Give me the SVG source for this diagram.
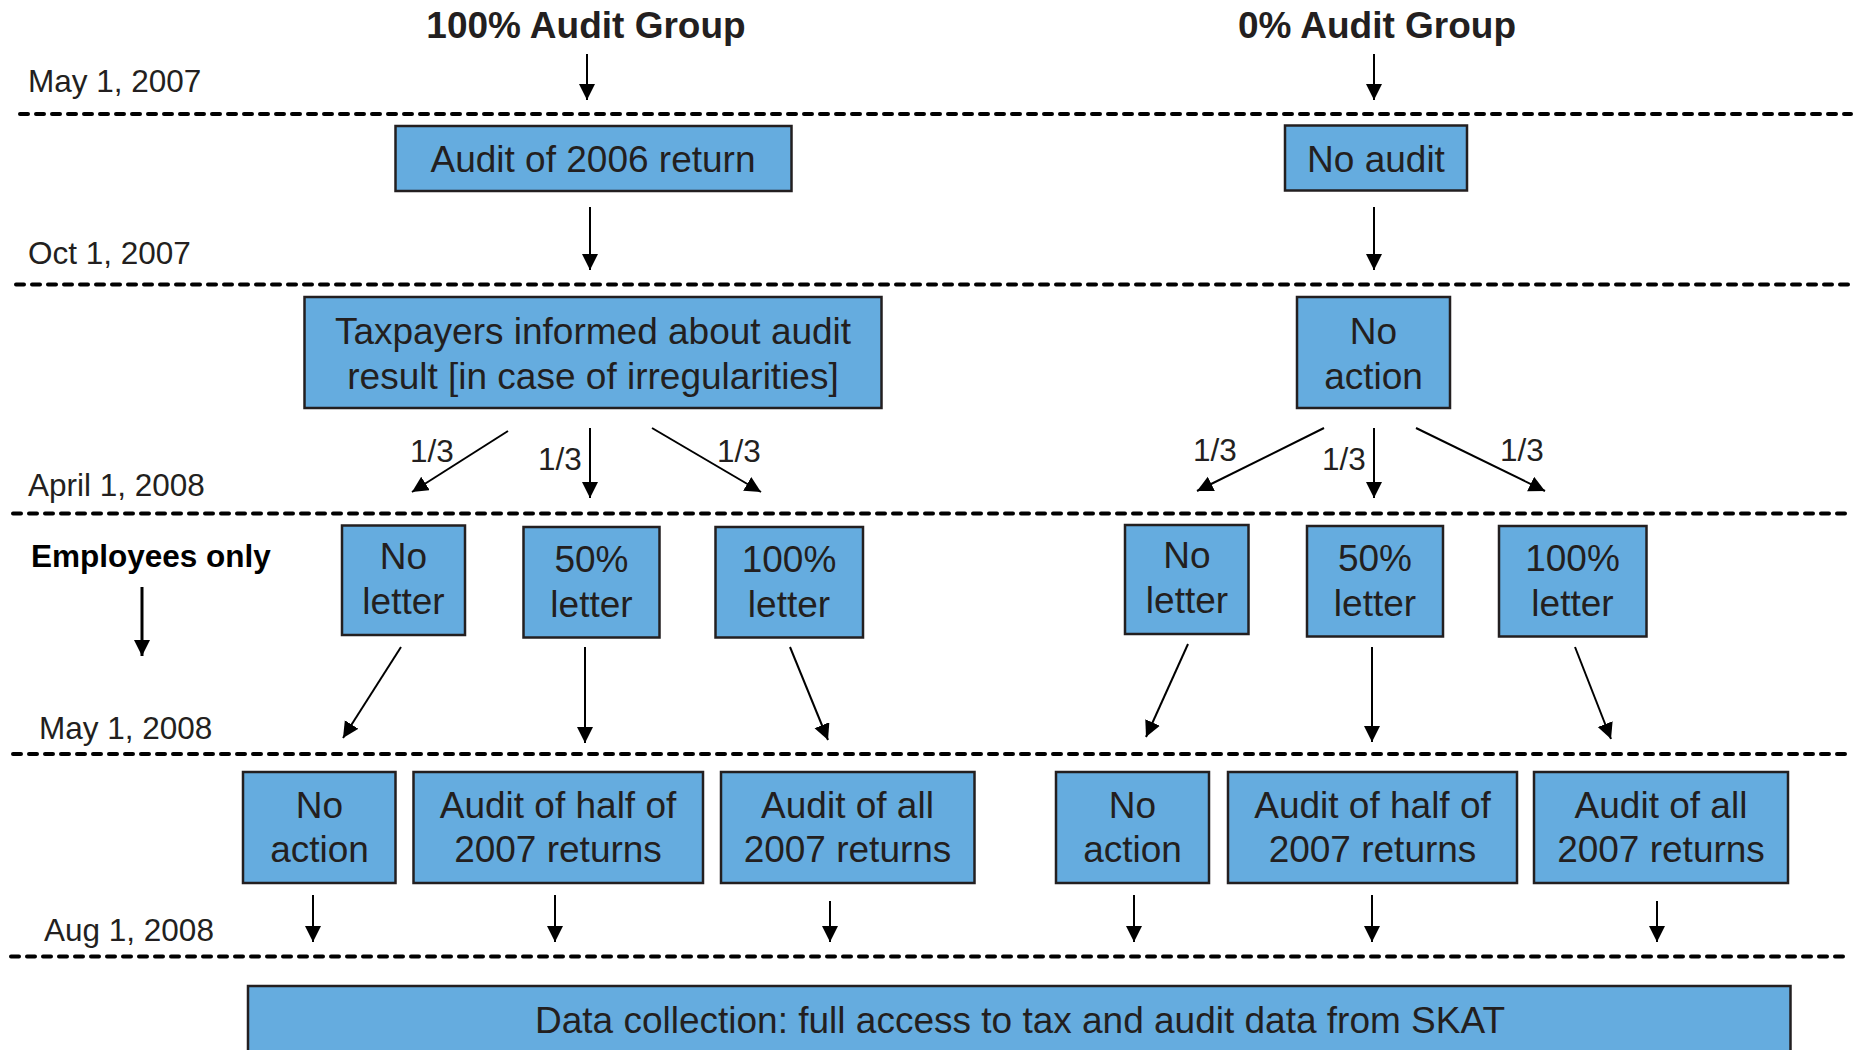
<svg xmlns="http://www.w3.org/2000/svg" width="1860" height="1050" viewBox="0 0 1860 1050">
<defs>
<style>
.box{fill:#65ACDF;stroke:#231F20;stroke-width:2.5}
.bt{font-family:"Liberation Sans",Arial,sans-serif;font-size:37px;fill:#231F20;text-anchor:middle}
.title{font-family:"Liberation Sans",Arial,sans-serif;font-size:37px;font-weight:bold;fill:#231F20;text-anchor:middle}
.date{font-family:"Liberation Sans",Arial,sans-serif;font-size:31.5px;fill:#231F20}
.frac{font-family:"Liberation Sans",Arial,sans-serif;font-size:31.5px;fill:#231F20;text-anchor:middle}
.emp{font-family:"Liberation Sans",Arial,sans-serif;font-size:31.5px;font-weight:bold;fill:#000}
.dash{stroke:#000;stroke-width:4;stroke-dasharray:8 8;stroke-linecap:round;fill:none}
.arr{stroke:#000;stroke-width:2;fill:none;marker-end:url(#ah)}
.arrb{stroke:#000;stroke-width:3;fill:none;marker-end:url(#ah)}
</style>
<marker id="ah" markerUnits="userSpaceOnUse" markerWidth="17" markerHeight="17" refX="16" refY="8" orient="auto">
<path d="M0,0 L16,8 L0,16 z" fill="#000"/>
</marker>
</defs>

<g id="timeline">
<line class="dash" x1="20" y1="114" x2="1851" y2="114"/>
<line class="dash" x1="16" y1="284.5" x2="1850" y2="284.5"/>
<line class="dash" x1="13" y1="513.5" x2="1848" y2="513.5"/>
<line class="dash" x1="13" y1="754" x2="1848" y2="754"/>
<line class="dash" x1="11" y1="956.5" x2="1843" y2="956.5"/>
<text class="date" x="28" y="92">May 1, 2007</text>
<text class="date" x="28" y="264">Oct 1, 2007</text>
<text class="date" x="28" y="496">April 1, 2008</text>
<text class="date" x="39" y="739">May 1, 2008</text>
<text class="date" x="44" y="941">Aug 1, 2008</text>
</g>

<g id="title-100">
<text class="title" x="586" y="38">100% Audit Group</text>
</g>
<g id="title-0">
<text class="title" x="1377" y="38">0% Audit Group</text>
</g>
<g id="employees-only">
<text class="emp" x="31" y="567">Employees only</text>
</g>

<g id="audit-2006">
<rect class="box" x="395.5" y="126" width="396" height="65"/>
<text class="bt" x="593" y="172">Audit of 2006 return</text>
</g>
<g id="no-audit">
<rect class="box" x="1285" y="125.5" width="182" height="65"/>
<text class="bt" x="1376" y="172">No audit</text>
</g>

<g id="informed">
<rect class="box" x="304.5" y="297" width="577" height="111"/>
<text class="bt" x="593" y="344">Taxpayers informed about audit</text>
<text class="bt" x="593" y="389">result [in case of irregularities]</text>
</g>
<g id="no-action-top">
<rect class="box" x="1297" y="297" width="153" height="111"/>
<text class="bt" x="1373.5" y="344">No</text>
<text class="bt" x="1373.5" y="389">action</text>
</g>

<g id="l-no-letter">
<rect class="box" x="342" y="525.5" width="123" height="109.5"/>
<text class="bt" x="403.5" y="568.5">No</text>
<text class="bt" x="403.5" y="613.5">letter</text>
</g>
<g id="l-50-letter">
<rect class="box" x="523.5" y="527" width="136" height="110.5"/>
<text class="bt" x="591.5" y="572">50%</text>
<text class="bt" x="591.5" y="617">letter</text>
</g>
<g id="l-100-letter">
<rect class="box" x="715.5" y="527" width="147.5" height="110.5"/>
<text class="bt" x="789" y="572">100%</text>
<text class="bt" x="789" y="617">letter</text>
</g>
<g id="r-no-letter">
<rect class="box" x="1125" y="525" width="123.5" height="109"/>
<text class="bt" x="1187" y="568">No</text>
<text class="bt" x="1187" y="613">letter</text>
</g>
<g id="r-50-letter">
<rect class="box" x="1307" y="526" width="136" height="110.5"/>
<text class="bt" x="1375" y="571">50%</text>
<text class="bt" x="1375" y="616">letter</text>
</g>
<g id="r-100-letter">
<rect class="box" x="1499" y="526" width="147.5" height="110.5"/>
<text class="bt" x="1572.5" y="571">100%</text>
<text class="bt" x="1572.5" y="616">letter</text>
</g>

<g id="l-no-action">
<rect class="box" x="243" y="772" width="152.5" height="111"/>
<text class="bt" x="319.5" y="818">No</text>
<text class="bt" x="319.5" y="862">action</text>
</g>
<g id="l-audit-half">
<rect class="box" x="413.5" y="772" width="289.5" height="111"/>
<text class="bt" x="558" y="818">Audit of half of</text>
<text class="bt" x="558" y="862">2007 returns</text>
</g>
<g id="l-audit-all">
<rect class="box" x="721" y="772" width="253.5" height="111"/>
<text class="bt" x="847.5" y="818">Audit of all</text>
<text class="bt" x="847.5" y="862">2007 returns</text>
</g>
<g id="r-no-action">
<rect class="box" x="1056" y="772" width="153" height="111"/>
<text class="bt" x="1132.5" y="818">No</text>
<text class="bt" x="1132.5" y="862">action</text>
</g>
<g id="r-audit-half">
<rect class="box" x="1228" y="772" width="289" height="111"/>
<text class="bt" x="1372.5" y="818">Audit of half of</text>
<text class="bt" x="1372.5" y="862">2007 returns</text>
</g>
<g id="r-audit-all">
<rect class="box" x="1534" y="772" width="254" height="111"/>
<text class="bt" x="1661" y="818">Audit of all</text>
<text class="bt" x="1661" y="862">2007 returns</text>
</g>

<g id="data-collection">
<rect class="box" x="248" y="986" width="1542.5" height="90"/>
<text class="bt" x="1020" y="1033">Data collection: full access to tax and audit data from SKAT</text>
</g>

<g id="connectors">
<line class="arr" x1="587" y1="54" x2="587" y2="100"/>
<line class="arr" x1="1374" y1="54" x2="1374" y2="100"/>
<line class="arr" x1="590" y1="207" x2="590" y2="270"/>
<line class="arr" x1="1374" y1="207" x2="1374" y2="270"/>
<line class="arr" x1="508" y1="431" x2="412" y2="492"/>
<line class="arr" x1="590" y1="428" x2="590" y2="498"/>
<line class="arr" x1="652" y1="428" x2="761" y2="492"/>
<line class="arr" x1="1324" y1="428" x2="1197" y2="491"/>
<line class="arr" x1="1374" y1="428" x2="1374" y2="498"/>
<line class="arr" x1="1416" y1="428" x2="1545" y2="491"/>
<text class="frac" x="432" y="462">1/3</text>
<text class="frac" x="560" y="470">1/3</text>
<text class="frac" x="739" y="462">1/3</text>
<text class="frac" x="1215" y="461">1/3</text>
<text class="frac" x="1344" y="470">1/3</text>
<text class="frac" x="1522" y="461">1/3</text>
<line class="arrb" x1="142" y1="587" x2="142" y2="656"/>
<line class="arr" x1="401" y1="647" x2="343" y2="738"/>
<line class="arr" x1="585" y1="647" x2="585" y2="743"/>
<line class="arr" x1="790" y1="647" x2="828" y2="740"/>
<line class="arr" x1="1188" y1="644" x2="1146" y2="737"/>
<line class="arr" x1="1372" y1="647" x2="1372" y2="742"/>
<line class="arr" x1="1575" y1="647" x2="1611" y2="739"/>
<line class="arr" x1="313" y1="895" x2="313" y2="942"/>
<line class="arr" x1="555" y1="895" x2="555" y2="942"/>
<line class="arr" x1="830" y1="901" x2="830" y2="942"/>
<line class="arr" x1="1134" y1="895" x2="1134" y2="942"/>
<line class="arr" x1="1372" y1="895" x2="1372" y2="942"/>
<line class="arr" x1="1657" y1="901" x2="1657" y2="942"/>
</g>
</svg>
